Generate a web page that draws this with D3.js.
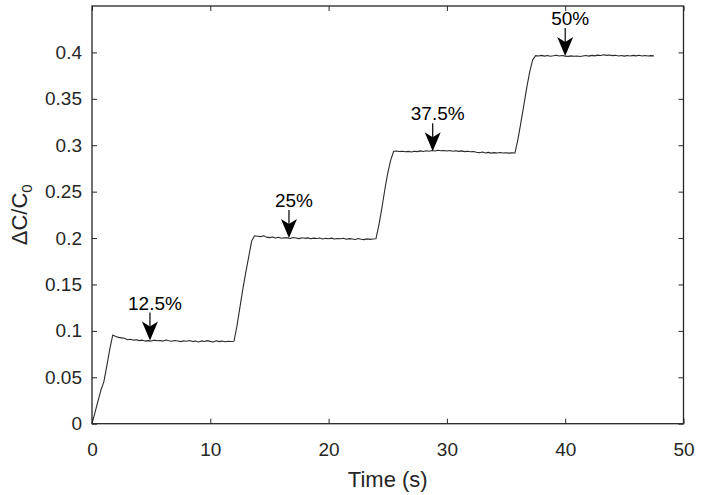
<!DOCTYPE html>
<html>
<head>
<meta charset="utf-8">
<script src="https://cdn.jsdelivr.net/npm/d3@7"></script>
<style>
  html, body { margin: 0; padding: 0; background: #fff; }
  svg { display: block; font-family: "Liberation Sans", Arial, sans-serif; }
</style>
</head>
<body>
<svg id="chart" width="702" height="495"></svg>
<script>
// ---- data ----
const xTicks = [0, 10, 20, 30, 40, 50];
const yTicks = [0, 0.05, 0.1, 0.15, 0.2, 0.25, 0.3, 0.35, 0.4];
const xLabel = "Time (s)";

// measured ΔC/C0 trace: [time (s), value]
const signal = [
  [0,0],[0.25,0.012],[0.5,0.024],[0.75,0.036],[1.0,0.045],[1.25,0.062],[1.5,0.080],[1.75,0.0955],
  [2.0,0.094],[2.25,0.093],[2.5,0.0925],[2.75,0.092],[3.0,0.0905],[3.25,0.091],[3.5,0.0900],[3.75,0.0905],
  [4.0,0.0895],[4.25,0.0900],[4.5,0.0890],[4.75,0.0895],[5.0,0.0890],[5.25,0.0900],[5.5,0.0893],[5.75,0.0897],
  [6.0,0.0890],[6.25,0.0902],[6.5,0.0894],[6.75,0.0888],[7.0,0.0896],[7.25,0.0891],[7.5,0.0884],[7.75,0.0893],
  [8.0,0.0889],[8.25,0.0897],[8.5,0.0885],[8.75,0.0890],[9.0,0.0881],[9.25,0.0892],[9.5,0.0886],[9.75,0.0895],
  [10.0,0.0887],[10.25,0.0880],[10.5,0.0893],[10.75,0.0884],[11.0,0.0890],[11.25,0.0882],[11.5,0.0889],[11.75,0.0886],
  [12.0,0.0888],[12.25,0.105],[12.5,0.125],[12.75,0.145],[13.0,0.163],[13.25,0.180],[13.5,0.197],[13.75,0.2025],
  [14.0,0.2020],[14.25,0.2015],[14.5,0.2025],[14.75,0.2010],[15.0,0.2005],[15.25,0.2012],[15.5,0.2000],[15.75,0.2008],
  [16.0,0.1998],[16.25,0.2004],[16.5,0.2002],[16.75,0.1996],[17.0,0.2006],[17.25,0.2001],[17.5,0.1994],[17.75,0.2003],
  [18.0,0.1997],[18.25,0.2002],[18.5,0.1992],[18.75,0.1999],[19.0,0.1995],[19.25,0.2001],[19.5,0.1990],[19.75,0.1997],
  [20.0,0.1993],[20.25,0.1999],[20.5,0.1989],[20.75,0.1996],[21.0,0.1992],[21.25,0.1998],[21.5,0.1987],[21.75,0.1994],
  [22.0,0.1990],[22.25,0.1985],[22.5,0.1995],[22.75,0.1988],[23.0,0.1983],[23.25,0.1991],[23.5,0.1986],[23.75,0.1990],
  [24.0,0.1992],[24.25,0.214],[24.5,0.232],[24.75,0.252],[25.0,0.270],[25.25,0.284],[25.5,0.2935],[25.75,0.2938],
  [26.0,0.2932],[26.25,0.2936],[26.5,0.2929],[26.75,0.2934],[27.0,0.2927],[27.25,0.2936],[27.5,0.2931],[27.75,0.2939],
  [28.0,0.2933],[28.25,0.2941],[28.5,0.2935],[28.75,0.2944],[29.0,0.2938],[29.25,0.2946],[29.5,0.2940],[29.75,0.2944],
  [30.0,0.2937],[30.25,0.2943],[30.5,0.2936],[30.75,0.2941],[31.0,0.2934],[31.25,0.2939],[31.5,0.2931],[31.75,0.2936],
  [32.0,0.2929],[32.25,0.2933],[32.5,0.2925],[32.75,0.2920],[33.0,0.2928],[33.25,0.2917],[33.5,0.2923],[33.75,0.2915],
  [34.0,0.2920],[34.25,0.2916],[34.5,0.2921],[34.75,0.2917],[35.0,0.2919],[35.25,0.2915],[35.5,0.2918],[35.75,0.2916],
  [36.0,0.306],[36.25,0.324],[36.5,0.343],[36.75,0.362],[37.0,0.379],[37.25,0.392],[37.5,0.3965],
  [37.75,0.3962],[38.0,0.3968],[38.25,0.3960],[38.5,0.3966],[38.75,0.3959],[39.0,0.3964],[39.25,0.3970],[39.5,0.3961],
  [39.75,0.3967],[40.0,0.3960],[40.25,0.3957],[40.5,0.3963],[40.75,0.3958],[41.0,0.3962],[41.25,0.3956],[41.5,0.3961],
  [41.75,0.3966],[42.0,0.3960],[42.25,0.3968],[42.5,0.3963],[42.75,0.3971],[43.0,0.3966],[43.25,0.3974],[43.5,0.3968],
  [43.75,0.3972],[44.0,0.3965],[44.25,0.3970],[44.5,0.3962],[44.75,0.3967],[45.0,0.3960],[45.25,0.3966],[45.5,0.3961],
  [45.75,0.3968],[46.0,0.3963],[46.25,0.3969],[46.5,0.3962],[46.75,0.3967],[47.0,0.3961],[47.25,0.3965],[47.5,0.3963]
];

// arrow annotations: label and arrow tip in data coordinates
const annoLabels = ["12.5%", "25%", "37.5%", "50%"];
const annoX = [4.9, 16.65, 28.8, 40.0];
const annoY = [0.0895, 0.2, 0.2935, 0.396];

// ---- drawing ----
const ink = "#262626";
const svg = d3.select("#chart");
const mLeft = 92, mRight = 683.5, mTop = 6, mBottom = 423.7;

const x = d3.scaleLinear().domain([0, 50]).range([mLeft, mRight]);
const y = d3.scaleLinear().domain([0, 0.45]).range([mBottom, mTop]);

const fmtY = v => (v === 0 ? "0" : String(+v.toFixed(2)));

const gx = svg.append("g").attr("transform", `translate(0,${mBottom})`)
  .call(d3.axisBottom(x).tickValues(xTicks).tickSizeInner(-5).tickSizeOuter(0).tickPadding(19).tickFormat(d3.format("d")));
const gy = svg.append("g").attr("transform", `translate(${mLeft},0)`)
  .call(d3.axisLeft(y).tickValues(yTicks).tickSizeInner(-5).tickSizeOuter(0).tickPadding(10).tickFormat(fmtY));
const gxt = svg.append("g").attr("transform", `translate(0,${mTop})`)
  .call(d3.axisTop(x).tickValues(xTicks).tickSizeInner(-5).tickSizeOuter(0).tickFormat(""));
const gyr = svg.append("g").attr("transform", `translate(${mRight},0)`)
  .call(d3.axisRight(y).tickValues(yTicks).tickSizeInner(-5).tickSizeOuter(0).tickFormat(""));

[gx, gy, gxt, gyr].forEach(g => {
  g.select(".domain").remove();
  g.selectAll(".tick line").attr("stroke", ink).attr("stroke-width", 1);
  g.selectAll(".tick text").attr("fill", ink).style("font-size", "19px")
    .style("font-family", '"Liberation Sans", Arial, sans-serif');
});

svg.append("rect")
  .attr("x", mLeft).attr("y", mTop)
  .attr("width", mRight - mLeft).attr("height", mBottom - mTop)
  .attr("fill", "none").attr("stroke", ink).attr("stroke-width", 1.3);

// data line
const line = d3.line().x(d => x(d[0])).y(d => y(d[1]));
svg.append("path").datum(signal)
  .attr("d", line).attr("fill", "none")
  .attr("stroke", "#2a2a2a").attr("stroke-width", 1.1)
  .attr("stroke-linejoin", "round");

// annotations
annoLabels.forEach((lab, i) => {
  const tx = x(annoX[i]), ty = y(annoY[i]);
  const g = svg.append("g");
  g.append("line")
    .attr("x1", tx).attr("x2", tx)
    .attr("y1", ty - 28).attr("y2", ty - 12)
    .attr("stroke", "#000").attr("stroke-width", 1.2);
  g.append("path")
    .attr("d", `M${tx},${ty} L${tx - 8},${ty - 19} L${tx},${ty - 14} L${tx + 8},${ty - 19} Z`)
    .attr("fill", "#000");
  g.append("text")
    .attr("x", tx + 5).attr("y", ty - 31)
    .attr("text-anchor", "middle")
    .style("font-size", "19px").attr("fill", "#000")
    .text(lab);
});

// axis labels
svg.append("text")
  .attr("x", (mLeft + mRight) / 2).attr("y", 487)
  .attr("text-anchor", "middle")
  .style("font-size", "22px").attr("fill", ink)
  .text(xLabel);

const yl = svg.append("text")
  .attr("transform", `translate(27,${(mTop + mBottom) / 2}) rotate(-90)`)
  .attr("text-anchor", "middle")
  .style("font-size", "22px").attr("fill", ink);
yl.append("tspan").text("\u0394C/C");
yl.append("tspan").attr("dy", 5).style("font-size", "15px").text("0");
</script>
</body>
</html>
